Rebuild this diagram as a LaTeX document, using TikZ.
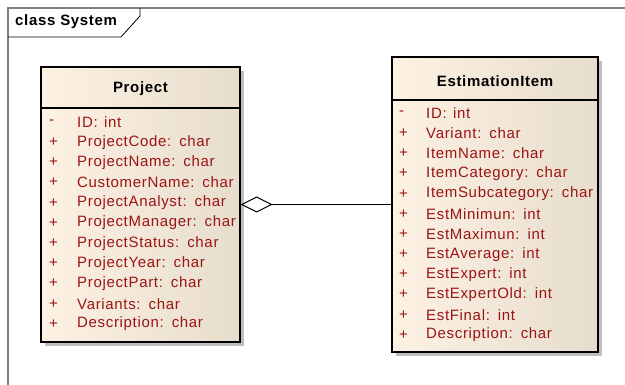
\documentclass[tikz,border=0pt]{standalone}
\usepackage{fontspec}
\setmainfont[LetterSpace=4.5]{Liberation Sans}
\usetikzlibrary{arrows.meta,shadows}
\definecolor{attr}{RGB}{155,20,20}
\definecolor{fillL}{RGB}{252,241,226}
\definecolor{fillR}{RGB}{231,221,205}
\definecolor{frame}{RGB}{128,128,128}
\definecolor{shadowc}{RGB}{190,190,190}
\newcommand{\tgap}{: \kern1.5pt}
\tikzset{
  x=1pt,y=1pt,
  classbox/.style={draw=black,line width=1.3pt,left color=fillL,right color=fillR,
    shading angle=90,inner sep=0pt,
    drop shadow={shadow xshift=4pt,shadow yshift=-4pt,fill=shadowc,opacity=1}},
  ctitle/.style={font=\fontsize{15}{17}\selectfont\bfseries,inner sep=0pt},
  vis/.style={font=\fontsize{15}{17}\selectfont,text=attr,anchor=west,inner sep=0pt},
  attrtext/.style={font=\fontsize{15}{17}\selectfont,text=attr,anchor=west,inner sep=0pt},
  frametxt/.style={font=\fontsize{15}{17}\selectfont\bfseries,anchor=west,inner sep=0pt},
}
\begin{document}
\begin{tikzpicture}
\useasboundingbox (0,0) rectangle (625,-385);
% frame
\draw[frame,line width=1.6pt] (8,-385) -- (8,-8) -- (625,-8);
\draw[black,line width=0.8pt] (8,-37) -- (121,-37) -- (140,-16) -- (140,-8);
\node[frametxt] (fname) at (15,-22) {class System};
% classes
\node[classbox,minimum width=199pt,minimum height=275pt] (project) at (140.5,-204.5) {};
\node[classbox,minimum width=206pt,minimum height=295pt] (est) at (495,-204.5) {};
\draw[black,line width=1.1pt] (41,-108) -- (240,-108);
\draw[black,line width=1.1pt] (392,-100) -- (598,-100);
\node[ctitle] (ptitle) at (140.5,-89) {Project};
\node[ctitle] (etitle) at (495,-81) {EstimationItem};
% Project attributes
\foreach \v/\t [count=\i from 0] in {-/{ID\tgap int},+/{ProjectCode\tgap char},+/{ProjectName\tgap char},
  +/{CustomerName\tgap char},+/{ProjectAnalyst\tgap char},+/{ProjectManager\tgap char},
  +/{ProjectStatus\tgap char},+/{ProjectYear\tgap char},+/{ProjectPart\tgap char},
  +/{Variants\tgap char},+/{Description\tgap char}}{
  \node[vis] (pv\i) at (49,-122-20.2*\i) {\v};
  \node[attrtext] (pa\i) at (77,-122-20.2*\i) {\t};
}
% EstimationItem attributes
\foreach \v/\t [count=\i from 0] in {-/{ID\tgap int},+/{Variant\tgap char},+/{ItemName\tgap char},
  +/{ItemCategory\tgap char},+/{ItemSubcategory\tgap char},+/{EstMinimun\tgap int},
  +/{EstMaximun\tgap int},+/{EstAverage\tgap int},+/{EstExpert\tgap int},
  +/{EstExpertOld\tgap int},+/{EstFinal\tgap int},+/{Description\tgap char}}{
  \node[vis] (ev\i) at (399,-113-20.18*\i) {\v};
  \node[attrtext] (ea\i) at (426,-113-20.18*\i) {\t};
}
% aggregation
\draw[black,line width=1pt,-{Diamond[open,length=32pt,width=16pt,line width=1pt]}] (est.west) -- (project.east);
\end{tikzpicture}
\end{document}
